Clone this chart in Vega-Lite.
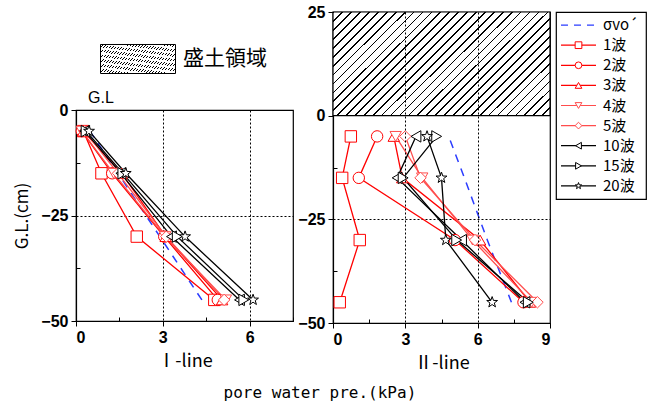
{
  "$schema": "https://vega.github.io/schema/vega-lite/v6.json",
  "background": "white",
  "padding": {"left": 13, "top": 3, "right": 2, "bottom": 4},
  "datasets": {
    "I": [
      {"series": "1波", "depth": -5, "pwp": 0.25}, {"series": "1波", "depth": -15, "pwp": 0.88}, {"series": "1波", "depth": -30, "pwp": 2.1}, {"series": "1波", "depth": -45, "pwp": 4.78},
      {"series": "2波", "depth": -5, "pwp": 0.2}, {"series": "2波", "depth": -15, "pwp": 1.25}, {"series": "2波", "depth": -30, "pwp": 3.05}, {"series": "2波", "depth": -45, "pwp": 4.9},
      {"series": "3波", "depth": -5, "pwp": 0.25}, {"series": "3波", "depth": -15, "pwp": 1.58}, {"series": "3波", "depth": -30, "pwp": 3.1}, {"series": "3波", "depth": -45, "pwp": 5.05},
      {"series": "4波", "depth": -5, "pwp": 0.2}, {"series": "4波", "depth": -15, "pwp": 1.3}, {"series": "4波", "depth": -30, "pwp": 3.08}, {"series": "4波", "depth": -45, "pwp": 5.18},
      {"series": "5波", "depth": -5, "pwp": 0.3}, {"series": "5波", "depth": -15, "pwp": 1.45}, {"series": "5波", "depth": -30, "pwp": 3.12}, {"series": "5波", "depth": -45, "pwp": 5.12},
      {"series": "10波", "depth": -5, "pwp": 0.3}, {"series": "10波", "depth": -15, "pwp": 1.55}, {"series": "10波", "depth": -30, "pwp": 3.3}, {"series": "10波", "depth": -45, "pwp": 5.65},
      {"series": "15波", "depth": -5, "pwp": 0.35}, {"series": "15波", "depth": -15, "pwp": 1.62}, {"series": "15波", "depth": -30, "pwp": 3.5}, {"series": "15波", "depth": -45, "pwp": 5.8},
      {"series": "20波", "depth": -5, "pwp": 0.45}, {"series": "20波", "depth": -15, "pwp": 1.72}, {"series": "20波", "depth": -30, "pwp": 3.77}, {"series": "20波", "depth": -45, "pwp": 6.12}
    ],
    "II": [
      {"series": "1波", "depth": -5, "pwp": 0.74}, {"series": "1波", "depth": -15, "pwp": 0.38}, {"series": "1波", "depth": -30, "pwp": 1.11}, {"series": "1波", "depth": -45, "pwp": 0.28},
      {"series": "2波", "depth": -5, "pwp": 1.83}, {"series": "2波", "depth": -15, "pwp": 1.07}, {"series": "2波", "depth": -30, "pwp": 5.06}, {"series": "2波", "depth": -45, "pwp": 7.9},
      {"series": "3波", "depth": -5, "pwp": 2.52}, {"series": "3波", "depth": -15, "pwp": 2.87}, {"series": "3波", "depth": -30, "pwp": 6.1}, {"series": "3波", "depth": -45, "pwp": 8.17},
      {"series": "4波", "depth": -5, "pwp": 2.6}, {"series": "4波", "depth": -15, "pwp": 3.7}, {"series": "4波", "depth": -30, "pwp": 5.79}, {"series": "4波", "depth": -45, "pwp": 8.24},
      {"series": "5波", "depth": -5, "pwp": 3.0}, {"series": "5波", "depth": -15, "pwp": 3.63}, {"series": "5波", "depth": -30, "pwp": 5.89}, {"series": "5波", "depth": -45, "pwp": 8.48},
      {"series": "10波", "depth": -5, "pwp": 3.44}, {"series": "10波", "depth": -15, "pwp": 2.66}, {"series": "10波", "depth": -30, "pwp": 5.33}, {"series": "10波", "depth": -45, "pwp": 7.96},
      {"series": "15波", "depth": -5, "pwp": 4.3}, {"series": "15波", "depth": -15, "pwp": 2.91}, {"series": "15波", "depth": -30, "pwp": 5.13}, {"series": "15波", "depth": -45, "pwp": 8.1},
      {"series": "20波", "depth": -5, "pwp": 3.9}, {"series": "20波", "depth": -15, "pwp": 4.5}, {"series": "20波", "depth": -30, "pwp": 4.68}, {"series": "20波", "depth": -45, "pwp": 6.6}
    ],
    "sI": [
      {"depth": -5, "pwp": 0.48}, {"depth": -15, "pwp": 1.45}, {"depth": -30, "pwp": 2.9}, {"depth": -45, "pwp": 4.35}
    ],
    "sII": [
      {"depth": -5, "pwp": 4.8}, {"depth": -15, "pwp": 5.45}, {"depth": -30, "pwp": 6.4}, {"depth": -45, "pwp": 7.4}
    ],
    "zone": [
      {"zone": "盛土領域", "from": 0, "to": 9, "base": 0, "top": 25}
    ],
    "legend": [
      {"series": "σvo´"}, {"series": "1波"}, {"series": "2波"}, {"series": "3波"}, {"series": "4波"}, {"series": "5波"}, {"series": "10波"}, {"series": "15波"}, {"series": "20波"}
    ]
  },
  "title": {"text": "pore water pre.(kPa)", "orient": "bottom", "anchor": "middle", "font": "DejaVu Sans Mono", "fontSize": 16, "fontWeight": "normal", "color": "black", "offset": 12, "dx": -10},
  "spacing": 2,
  "hconcat": [
    {
      "spacing": 0,
      "vconcat": [
        {
          "width": 217,
          "height": 77,
          "view": {"stroke": null},
          "data": {"values": []},
          "mark": "rect"
        },
        {
          "width": 217,
          "height": 211,
          "title": {"text": "G.L", "anchor": "start", "frame": "group", "dx": 12, "font": "Liberation Sans", "fontSize": 16, "fontWeight": "normal", "offset": -4, "color": "black"},
          "encoding": {
            "x": {"field": "pwp", "type": "quantitative", "scale": {"domain": [0, 7.5], "nice": false, "zero": false},
              "axis": {"title": "Ⅰ-line", "values": [0, 1.5, 3, 4.5, 6, 7.5], "labelExpr": "datum.value % 3 === 0 && datum.value < 7 ? datum.label : ''", "grid": true,
                "gridOpacity": {"condition": {"test": "datum.value === 3 || datum.value === 6", "value": 1}, "value": 0},
                "tickSize": {"condition": {"test": "datum.value % 3 !== 0", "value": -4}, "value": 5}, "titleFontSize": 18, "titlePadding": 7}},
            "y": {"field": "depth", "type": "quantitative", "scale": {"domain": [-50, 0], "nice": false, "zero": false},
              "axis": {"title": "G.L.(cm)", "values": [0, -12.5, -25, -37.5, -50], "labelExpr": "datum.value % 25 === 0 ? datum.label : ''", "grid": true,
                "gridOpacity": {"condition": {"test": "datum.value === -25", "value": 1}, "value": 0},
                "tickSize": {"condition": {"test": "datum.value % 25 !== 0", "value": -4}, "value": 5}, "titlePadding": 9}},
            "order": {"field": "depth", "type": "quantitative"}
          },
          "layer": [
            {"data": {"name": "sI"}, "mark": {"type": "line", "color": "#2b3cff", "strokeDash": [8, 7], "strokeWidth": 1.5}},
            {"data": {"name": "I"}, "mark": {"type": "line", "strokeWidth": 1.3},
              "encoding": {"color": {"field": "series", "type": "nominal", "legend": null,
                "scale": {"domain": ["σvo´", "1波", "2波", "3波", "4波", "5波", "10波", "15波", "20波"], "range": ["#2b3cff", "#ff0000", "#ff0000", "#ff0000", "#ff4d4d", "#ff4d4d", "#000000", "#000000", "#000000"]}}}},
            {"data": {"name": "I"}, "mark": {"type": "point", "filled": false, "fill": "white", "fillOpacity": 1, "opacity": 1, "size": 130, "strokeWidth": 1},
              "encoding": {"color": {"field": "series", "type": "nominal", "legend": null},
                "shape": {"field": "series", "type": "nominal", "legend": null,
                  "scale": {"domain": ["1波", "2波", "3波", "4波", "5波", "10波", "15波", "20波"], "range": ["square", "circle", "triangle-up", "triangle-down", "diamond", "triangle-left", "triangle-right", "M0,-1L0.235,-0.324L0.951,-0.309L0.38,0.124L0.588,0.809L0,0.4L-0.588,0.809L-0.38,0.124L-0.951,-0.309L-0.235,-0.324Z"]}}}}
          ]
        }
      ]
    },
    {
      "spacing": 3,
      "hconcat": [
        {
          "width": 217,
          "height": 311,
          "encoding": {
            "x": {"field": "pwp", "type": "quantitative", "scale": {"domain": [0, 9], "nice": false, "zero": false},
              "axis": {"title": "Ⅱ-line", "zindex": 1, "values": [0, 1.5, 3, 4.5, 6, 7.5, 9], "labelExpr": "datum.value % 3 === 0 ? datum.label : ''", "grid": true,
                "gridOpacity": {"condition": {"test": "datum.value === 3 || datum.value === 6", "value": 1}, "value": 0},
                "tickSize": {"condition": {"test": "datum.value % 3 !== 0", "value": -4}, "value": 5}, "titleFontSize": 18, "titlePadding": 7}},
            "y": {"field": "depth", "type": "quantitative", "scale": {"domain": [-50, 25], "nice": false, "zero": false},
              "axis": {"title": null, "values": [25, 12.5, 0, -12.5, -25, -37.5, -50], "labelExpr": "datum.value % 25 === 0 ? datum.label : ''", "grid": true,
                "gridOpacity": {"condition": {"test": "datum.value === -25", "value": 1}, "value": 0},
                "tickSize": {"condition": {"test": "datum.value % 25 !== 0", "value": -4}, "value": 5}}},
            "order": {"field": "depth", "type": "quantitative"}
          },
          "layer": [
            {"data": {"name": "zone"},
              "mark": {"type": "rect", "strokeWidth": 1.2,
                "fill": {"gradient": "linear", "x1": 0, "y1": 0, "x2": 1.203, "y2": 0.5765, "stops": [
                  {"offset": 0, "color": "#000"}, {"offset": 0.0053, "color": "#000"}, {"offset": 0.0053, "color": "#fff"}, {"offset": 0.0278, "color": "#fff"},
                  {"offset": 0.0278, "color": "#000"}, {"offset": 0.0331, "color": "#000"}, {"offset": 0.0331, "color": "#fff"}, {"offset": 0.0556, "color": "#fff"},
                  {"offset": 0.0556, "color": "#000"}, {"offset": 0.0609, "color": "#000"}, {"offset": 0.0609, "color": "#fff"}, {"offset": 0.0833, "color": "#fff"},
                  {"offset": 0.0833, "color": "#000"}, {"offset": 0.0886, "color": "#000"}, {"offset": 0.0886, "color": "#fff"}, {"offset": 0.1111, "color": "#fff"},
                  {"offset": 0.1111, "color": "#000"}, {"offset": 0.1164, "color": "#000"}, {"offset": 0.1164, "color": "#fff"}, {"offset": 0.1389, "color": "#fff"},
                  {"offset": 0.1389, "color": "#000"}, {"offset": 0.1442, "color": "#000"}, {"offset": 0.1442, "color": "#fff"}, {"offset": 0.1667, "color": "#fff"},
                  {"offset": 0.1667, "color": "#000"}, {"offset": 0.172, "color": "#000"}, {"offset": 0.172, "color": "#fff"}, {"offset": 0.1944, "color": "#fff"},
                  {"offset": 0.1944, "color": "#000"}, {"offset": 0.1997, "color": "#000"}, {"offset": 0.1997, "color": "#fff"}, {"offset": 0.2222, "color": "#fff"},
                  {"offset": 0.2222, "color": "#000"}, {"offset": 0.2275, "color": "#000"}, {"offset": 0.2275, "color": "#fff"}, {"offset": 0.25, "color": "#fff"},
                  {"offset": 0.25, "color": "#000"}, {"offset": 0.2553, "color": "#000"}, {"offset": 0.2553, "color": "#fff"}, {"offset": 0.2778, "color": "#fff"},
                  {"offset": 0.2778, "color": "#000"}, {"offset": 0.2831, "color": "#000"}, {"offset": 0.2831, "color": "#fff"}, {"offset": 0.3056, "color": "#fff"},
                  {"offset": 0.3056, "color": "#000"}, {"offset": 0.3109, "color": "#000"}, {"offset": 0.3109, "color": "#fff"}, {"offset": 0.3333, "color": "#fff"},
                  {"offset": 0.3333, "color": "#000"}, {"offset": 0.3386, "color": "#000"}, {"offset": 0.3386, "color": "#fff"}, {"offset": 0.3611, "color": "#fff"},
                  {"offset": 0.3611, "color": "#000"}, {"offset": 0.3664, "color": "#000"}, {"offset": 0.3664, "color": "#fff"}, {"offset": 0.3889, "color": "#fff"},
                  {"offset": 0.3889, "color": "#000"}, {"offset": 0.3942, "color": "#000"}, {"offset": 0.3942, "color": "#fff"}, {"offset": 0.4167, "color": "#fff"},
                  {"offset": 0.4167, "color": "#000"}, {"offset": 0.422, "color": "#000"}, {"offset": 0.422, "color": "#fff"}, {"offset": 0.4444, "color": "#fff"},
                  {"offset": 0.4444, "color": "#000"}, {"offset": 0.4497, "color": "#000"}, {"offset": 0.4497, "color": "#fff"}, {"offset": 0.4722, "color": "#fff"},
                  {"offset": 0.4722, "color": "#000"}, {"offset": 0.4775, "color": "#000"}, {"offset": 0.4775, "color": "#fff"}, {"offset": 0.5, "color": "#fff"},
                  {"offset": 0.5, "color": "#000"}, {"offset": 0.5053, "color": "#000"}, {"offset": 0.5053, "color": "#fff"}, {"offset": 0.5278, "color": "#fff"},
                  {"offset": 0.5278, "color": "#000"}, {"offset": 0.5331, "color": "#000"}, {"offset": 0.5331, "color": "#fff"}, {"offset": 0.5556, "color": "#fff"},
                  {"offset": 0.5556, "color": "#000"}, {"offset": 0.5609, "color": "#000"}, {"offset": 0.5609, "color": "#fff"}, {"offset": 0.5833, "color": "#fff"},
                  {"offset": 0.5833, "color": "#000"}, {"offset": 0.5886, "color": "#000"}, {"offset": 0.5886, "color": "#fff"}, {"offset": 0.6111, "color": "#fff"},
                  {"offset": 0.6111, "color": "#000"}, {"offset": 0.6164, "color": "#000"}, {"offset": 0.6164, "color": "#fff"}, {"offset": 0.6389, "color": "#fff"},
                  {"offset": 0.6389, "color": "#000"}, {"offset": 0.6442, "color": "#000"}, {"offset": 0.6442, "color": "#fff"}, {"offset": 0.6667, "color": "#fff"},
                  {"offset": 0.6667, "color": "#000"}, {"offset": 0.672, "color": "#000"}, {"offset": 0.672, "color": "#fff"}, {"offset": 0.6944, "color": "#fff"},
                  {"offset": 0.6944, "color": "#000"}, {"offset": 0.6997, "color": "#000"}, {"offset": 0.6997, "color": "#fff"}, {"offset": 0.7222, "color": "#fff"},
                  {"offset": 0.7222, "color": "#000"}, {"offset": 0.7275, "color": "#000"}, {"offset": 0.7275, "color": "#fff"}, {"offset": 0.75, "color": "#fff"},
                  {"offset": 0.75, "color": "#000"}, {"offset": 0.7553, "color": "#000"}, {"offset": 0.7553, "color": "#fff"}, {"offset": 0.7778, "color": "#fff"},
                  {"offset": 0.7778, "color": "#000"}, {"offset": 0.7831, "color": "#000"}, {"offset": 0.7831, "color": "#fff"}, {"offset": 0.8056, "color": "#fff"},
                  {"offset": 0.8056, "color": "#000"}, {"offset": 0.8109, "color": "#000"}, {"offset": 0.8109, "color": "#fff"}, {"offset": 0.8333, "color": "#fff"},
                  {"offset": 0.8333, "color": "#000"}, {"offset": 0.8386, "color": "#000"}, {"offset": 0.8386, "color": "#fff"}, {"offset": 0.8611, "color": "#fff"},
                  {"offset": 0.8611, "color": "#000"}, {"offset": 0.8664, "color": "#000"}, {"offset": 0.8664, "color": "#fff"}, {"offset": 0.8889, "color": "#fff"},
                  {"offset": 0.8889, "color": "#000"}, {"offset": 0.8942, "color": "#000"}, {"offset": 0.8942, "color": "#fff"}, {"offset": 0.9167, "color": "#fff"},
                  {"offset": 0.9167, "color": "#000"}, {"offset": 0.922, "color": "#000"}, {"offset": 0.922, "color": "#fff"}, {"offset": 0.9444, "color": "#fff"},
                  {"offset": 0.9444, "color": "#000"}, {"offset": 0.9497, "color": "#000"}, {"offset": 0.9497, "color": "#fff"}, {"offset": 0.9722, "color": "#fff"},
                  {"offset": 0.9722, "color": "#000"}, {"offset": 0.9775, "color": "#000"}, {"offset": 0.9775, "color": "#fff"}, {"offset": 1, "color": "#fff"}
                ]}},
              "encoding": {
                "x": {"field": "from", "type": "quantitative"},
                "x2": {"field": "to"},
                "y": {"field": "top", "type": "quantitative"},
                "y2": {"field": "base"},
                "order": null,
                "stroke": {"field": "zone", "type": "nominal", "scale": {"domain": ["盛土領域"], "range": ["black"]},
                  "legend": {"orient": "none", "legendX": 24, "legendY": 9, "title": null, "padding": 0,
                    "symbolType": "M-1,-0.3867H1V0.3867H-1Z", "symbolSize": 5625, "symbolStrokeWidth": 1, "symbolStrokeColor": "black",
                    "labelFont": "Noto Sans CJK JP", "labelFontSize": 21, "labelColor": "black", "labelOffset": 7, "labelLimit": 200,
                    "encode": {"symbols": {"update": {
                      "fill": {"value": {"gradient": "linear", "x1": 0, "y1": 0, "x2": 1.2063, "y2": 0.4664, "stops": [
                        {"offset": 0, "color": "#000"}, {"offset": 0.0163, "color": "#000"}, {"offset": 0.0163, "color": "#fff"}, {"offset": 0.0833, "color": "#fff"},
                        {"offset": 0.0833, "color": "#000"}, {"offset": 0.0996, "color": "#000"}, {"offset": 0.0996, "color": "#fff"}, {"offset": 0.1667, "color": "#fff"},
                        {"offset": 0.1667, "color": "#000"}, {"offset": 0.183, "color": "#000"}, {"offset": 0.183, "color": "#fff"}, {"offset": 0.25, "color": "#fff"},
                        {"offset": 0.25, "color": "#000"}, {"offset": 0.2663, "color": "#000"}, {"offset": 0.2663, "color": "#fff"}, {"offset": 0.3333, "color": "#fff"},
                        {"offset": 0.3333, "color": "#000"}, {"offset": 0.3496, "color": "#000"}, {"offset": 0.3496, "color": "#fff"}, {"offset": 0.4167, "color": "#fff"},
                        {"offset": 0.4167, "color": "#000"}, {"offset": 0.433, "color": "#000"}, {"offset": 0.433, "color": "#fff"}, {"offset": 0.5, "color": "#fff"},
                        {"offset": 0.5, "color": "#000"}, {"offset": 0.5163, "color": "#000"}, {"offset": 0.5163, "color": "#fff"}, {"offset": 0.5833, "color": "#fff"},
                        {"offset": 0.5833, "color": "#000"}, {"offset": 0.5996, "color": "#000"}, {"offset": 0.5996, "color": "#fff"}, {"offset": 0.6667, "color": "#fff"},
                        {"offset": 0.6667, "color": "#000"}, {"offset": 0.683, "color": "#000"}, {"offset": 0.683, "color": "#fff"}, {"offset": 0.75, "color": "#fff"},
                        {"offset": 0.75, "color": "#000"}, {"offset": 0.7663, "color": "#000"}, {"offset": 0.7663, "color": "#fff"}, {"offset": 0.8333, "color": "#fff"},
                        {"offset": 0.8333, "color": "#000"}, {"offset": 0.8496, "color": "#000"}, {"offset": 0.8496, "color": "#fff"}, {"offset": 0.9167, "color": "#fff"},
                        {"offset": 0.9167, "color": "#000"}, {"offset": 0.933, "color": "#000"}, {"offset": 0.933, "color": "#fff"}, {"offset": 1, "color": "#fff"}
                      ]}},
                      "fillOpacity": {"value": 1},
                      "stroke": {"value": "black"},
                      "strokeWidth": {"value": 1}
                    }}}}}
              }},
            {"data": {"name": "sII"}, "mark": {"type": "line", "color": "#2b3cff", "strokeDash": [8, 7], "strokeWidth": 1.5}},
            {"data": {"name": "II"}, "mark": {"type": "line", "strokeWidth": 1.3},
              "encoding": {"color": {"field": "series", "type": "nominal", "legend": null}}},
            {"data": {"name": "II"}, "mark": {"type": "point", "filled": false, "fill": "white", "fillOpacity": 1, "opacity": 1, "size": 130, "strokeWidth": 1},
              "encoding": {"color": {"field": "series", "type": "nominal", "legend": null},
                "shape": {"field": "series", "type": "nominal", "legend": null}}}
          ]
        },
        {
          "width": 90,
          "height": 187,
          "data": {"name": "legend"},
          "encoding": {
            "y": {"field": "series", "type": "nominal", "axis": null,
              "scale": {"type": "point", "padding": 0.65, "domain": ["σvo´", "1波", "2波", "3波", "4波", "5波", "10波", "15波", "20波"]}}
          },
          "layer": [
            {"mark": {"type": "rule", "strokeWidth": 1.2},
              "encoding": {
                "x": {"datum": 0.5, "type": "quantitative", "scale": {"domain": [0, 9], "nice": false}, "axis": null},
                "x2": {"datum": 4.0},
                "color": {"field": "series", "type": "nominal", "legend": null},
                "strokeDash": {"condition": {"test": "datum.series === 'σvo´'", "value": [7, 6]}, "value": [1, 0]}
              }},
            {"transform": [{"filter": "datum.series !== 'σvo´'"}],
              "mark": {"type": "point", "filled": false, "fill": "white", "fillOpacity": 1, "opacity": 1, "size": 45, "strokeWidth": 1},
              "encoding": {
                "x": {"datum": 2.25, "type": "quantitative"},
                "color": {"field": "series", "type": "nominal", "legend": null},
                "shape": {"field": "series", "type": "nominal", "legend": null}
              }},
            {"mark": {"type": "text", "align": "left", "baseline": "middle", "font": "Noto Sans CJK JP", "fontSize": 15, "color": "black"},
              "encoding": {
                "x": {"datum": 4.7, "type": "quantitative"},
                "text": {"field": "series"}
              }}
          ]
        }
      ]
    }
  ],
  "config": {
    "view": {"stroke": "black", "strokeWidth": 1.2},
    "axis": {"domainColor": "black", "domainWidth": 1.2, "tickColor": "black", "tickWidth": 1, "labelColor": "black", "labelFont": "Liberation Sans", "labelFontSize": 16, "labelFontWeight": "bold", "labelPadding": 3,
      "titleColor": "black", "titleFont": "Noto Sans CJK JP", "titleFontWeight": "normal", "titleFontSize": 17,
      "gridColor": "black", "gridDash": [2, 2], "gridWidth": 1}
  }
}
